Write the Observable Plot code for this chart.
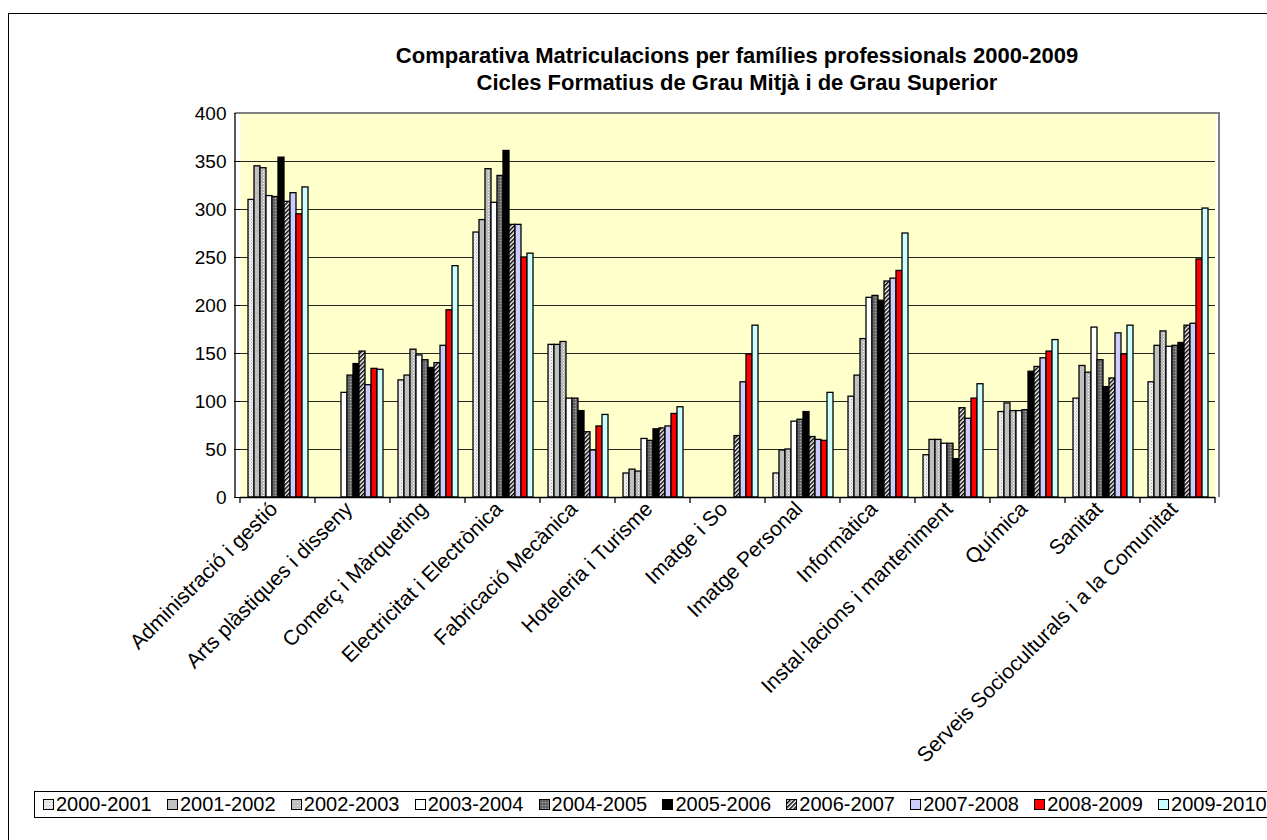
<!DOCTYPE html>
<html><head><meta charset="utf-8">
<script src="https://cdn.jsdelivr.net/npm/d3@7"></script>
<script src="https://cdn.jsdelivr.net/npm/@observablehq/plot@0.6"></script>
<style>
html,body{margin:0;padding:0;background:#fff;overflow:hidden;}
#chart{position:relative;width:1267px;height:840px;overflow:hidden;font-family:'Liberation Sans',Arial,sans-serif;color:#000;}
#border{position:absolute;left:8px;top:13px;width:1320px;height:900px;border:1px solid #000;box-sizing:border-box;}
#title{position:absolute;left:237px;width:1000px;top:42px;text-align:center;font-weight:bold;font-size:22px;line-height:27px;white-space:nowrap;}
#legend{position:absolute;left:34px;top:791px;width:1320px;height:27px;border:1px solid #000;box-sizing:border-box;display:flex;align-items:center;padding-left:8px;}
.item{width:123.9px;flex:none;display:flex;align-items:center;font-size:20px;white-space:nowrap;}
.item svg{margin-right:2px;flex:none;}
#plot{position:absolute;left:0;top:0;}
</style>
</head><body>
<div id="chart">
  <div id="border"></div>
  <div id="plot"></div>
  <div id="title">Comparativa Matriculacions per famílies professionals 2000-2009<br>Cicles Formatius de Grau Mitjà i de Grau Superior</div>
  <div id="legend"></div>
</div>
<script>
const categories = ["Administració i gestió", "Arts plàstiques i disseny", "Comerç i Màrqueting", "Electricitat i Electrònica", "Fabricació Mecànica", "Hoteleria i Turisme", "Imatge i So", "Imatge Personal", "Informàtica", "Instal·lacions i manteniment", "Química", "Sanitat", "Serveis Socioculturals i a la Comunitat"];
const years = ["2000-2001", "2001-2002", "2002-2003", "2003-2004", "2004-2005", "2005-2006", "2006-2007", "2007-2008", "2008-2009", "2009-2010"];

const v2000_2001 = [310, null, 122, 276, 159, 25, null, 25, 105, 44, 89, 103, 120];
const v2001_2002 = [345, null, 127, 289, 159, 29, null, 49, 127, 60, 98, 137, 158];
const v2002_2003 = [343, null, 154, 342, 162, 27, null, 50, 165, 60, 90, 130, 173];
const v2003_2004 = [314, 109, 148, 307, 103, 61, null, 79, 208, 56, 90, 177, 157];
const v2004_2005 = [313, 127, 143, 335, 103, 59, null, 81, 210, 56, 91, 143, 158];
const v2005_2006 = [354, 139, 135, 361, 90, 71, null, 89, 205, 40, 131, 115, 161];
const v2006_2007 = [308, 152, 140, 284, 68, 72, 64, 63, 225, 93, 136, 124, 179];
const v2007_2008 = [317, 117, 158, 284, 49, 74, 120, 60, 228, 82, 145, 171, 181];
const v2008_2009 = [295, 134, 195, 250, 74, 87, 149, 59, 236, 103, 152, 149, 248];
const v2009_2010 = [323, 133, 241, 254, 86, 94, 179, 109, 275, 118, 164, 179, 301];

const seriesValues = [v2000_2001, v2001_2002, v2002_2003, v2003_2004, v2004_2005, v2005_2006, v2006_2007, v2007_2008, v2008_2009, v2009_2010];
const yTicks = [0, 50, 100, 150, 200, 250, 300, 350, 400];
const fills = ["url(#pat-a)", "#C0C0C0", "url(#pat-b)", "#FFFFFF", "url(#pat-c)", "#000000", "url(#pat-d)", "#CCCCFF", "#FF0000", "#CCFFFF"];

const table = [];
years.forEach((yr, j) => categories.forEach((c, i) => {
  const v = seriesValues[j][i];
  if (v != null) table.push({category: c, year: yr, value: v});
}));

const svg = Plot.plot({
  width: 1267, height: 840,
  marginLeft: 235, marginRight: 48, marginTop: 113, marginBottom: 343,
  style: {fontFamily: "'Liberation Sans', Arial, sans-serif", fontSize: "19px", color: "#000", background: "transparent", overflow: "visible"},
  fx: {domain: categories, padding: 0, label: null},
  x: {domain: years, paddingInner: 0, paddingOuter: 0.57, axis: null},
  y: {domain: [0, 400], label: null},
  color: {type: "ordinal", domain: years, range: fills},
  marks: [
    Plot.frame({fill: "#FFFFCC", stroke: "none"}),
    Plot.gridY(yTicks.filter(t => t > 0 && t < 400), {stroke: "#000", strokeOpacity: 0.85, strokeWidth: 1}),
    Plot.barY(table, {fx: "category", x: "year", y: "value", fill: "year", stroke: "#000", strokeWidth: 1.3}),
    Plot.ruleY([0], {stroke: "#000", strokeWidth: 1.3}),
    Plot.axisY(yTicks, {tickSize: 6, tickPadding: 8, fontSize: 19, label: null}),
    Plot.axisFx({anchor: "bottom", tickRotate: -45, tickSize: 0, tickPadding: 8, fontSize: 21, dx: -4, label: null})
  ]
});
document.getElementById("plot").appendChild(svg);

// patterns
const s = d3.select(svg);
const defs = s.insert("defs", ":first-child");
function pat(id, size, bg, dots) {
  const p = defs.append("pattern").attr("id", id).attr("width", size).attr("height", size).attr("patternUnits", "userSpaceOnUse");
  p.append("rect").attr("width", size).attr("height", size).attr("fill", bg);
  dots.forEach(([x, y, c]) => p.append("rect").attr("x", x).attr("y", y).attr("width", 1).attr("height", 1).attr("fill", c));
}
pat("pat-a", 3, "#F2F2F2", [[0, 0, "#A8A8A8"], [1.5, 1.5, "#C8C8C8"]]);
pat("pat-b", 3, "#B4B4B4", [[0, 0, "#FFFFFF"], [1.5, 1.5, "#E0E0E0"]]);
pat("pat-c", 3, "#6E6E6E", [[0, 0, "#B0B0B0"], [1.5, 1.5, "#404040"]]);
const hd = defs.append("pattern").attr("id", "pat-d").attr("width", 3).attr("height", 3).attr("patternUnits", "userSpaceOnUse").attr("patternTransform", "rotate(45)");
hd.append("rect").attr("width", 3).attr("height", 3).attr("fill", "#FFFFFF");
hd.append("rect").attr("width", 1.5).attr("height", 3).attr("fill", "#000000");

// plot-area border and category boundary ticks from the scales
const fx = svg.scale("fx"), y = svg.scale("y");
const x0 = fx.range[0], x1 = fx.range[1], yTop = y.apply(400), yBot = y.apply(0);
s.append("path").attr("d", `M${x0},${yTop}H${x1}V${yBot}`).attr("fill", "none").attr("stroke", "#808080").attr("stroke-width", 2);
s.append("line").attr("x1", x0).attr("x2", x0).attr("y1", yTop).attr("y2", yBot).attr("stroke", "#000").attr("stroke-width", 1.3);
const edges = categories.map(c => fx.apply(c)).concat([fx.apply(categories[categories.length - 1]) + fx.bandwidth]);
s.append("g").selectAll("line").data(edges).join("line")
  .attr("x1", d => d).attr("x2", d => d).attr("y1", yBot).attr("y2", yBot + 6).attr("stroke", "#000").attr("stroke-width", 1.3);

// legend
const legend = d3.select("#legend");
years.forEach((yr, i) => {
  const item = legend.append("div").attr("class", "item");
  const sw = item.append("svg").attr("width", 11).attr("height", 11);
  sw.append("rect").attr("x", 0.5).attr("y", 0.5).attr("width", 10).attr("height", 10).attr("fill", fills[i]).attr("stroke", "#000").attr("stroke-width", 1);
  item.append("span").text(yr);
});
</script>
</body></html>
